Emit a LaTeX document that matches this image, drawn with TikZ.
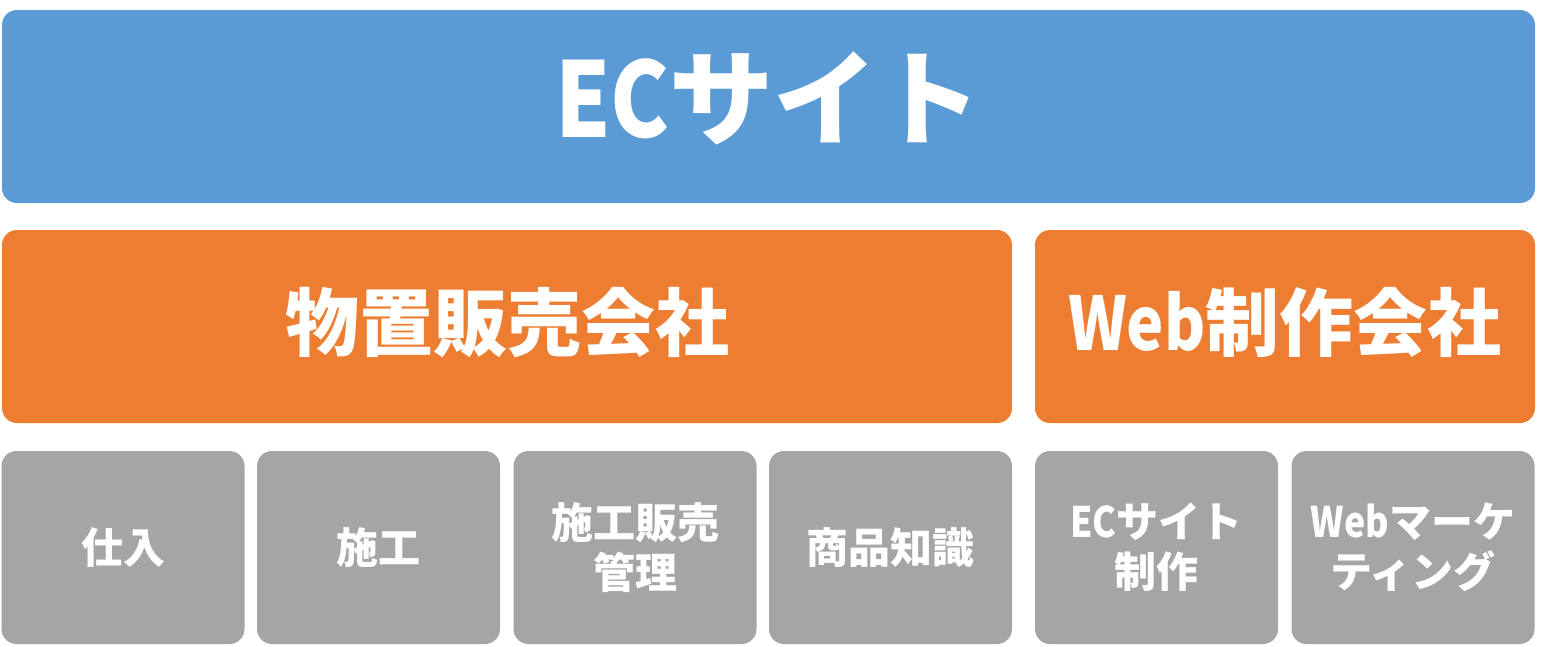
\documentclass[tikz,border=0pt]{standalone}
\usepackage{fontspec}
\setmainfont{Noto Sans CJK JP}
\definecolor{ecblue}{HTML}{5B9BD5}
\definecolor{ecorange}{HTML}{ED7D31}
\definecolor{ecgray}{HTML}{A5A5A5}
\newcommand{\narrowlatin}[1]{\scalebox{0.85}[1]{#1}}
\tikzset{
	tile/.style={rounded corners=15pt,inner sep=0pt,outer sep=0pt,text=white,align=center},
	toptile/.style={tile,fill=ecblue,minimum height=193pt,text height=68pt,text depth=7pt,font=\bfseries\fontsize{104}{108}\selectfont},
	midtile/.style={tile,fill=ecorange,minimum height=193pt,text height=54pt,text depth=7pt,font=\bfseries\fontsize{74}{80}\selectfont},
	subtile/.style={tile,fill=ecgray,minimum width=243pt,minimum height=193pt,font=\bfseries\fontsize{42}{50}\selectfont}
}
\begin{document}
\begin{tikzpicture}[x=1pt,y=-1pt]
		\useasboundingbox (0,0) rectangle (1552,646);
		\node[toptile,minimum width=1533pt] (ec) at (768.5,106.5) {\narrowlatin{EC}サイト};
		\node[midtile,minimum width=1010pt] (shop) at (507,326.5) {物置販売会社};
		\node[midtile,minimum width=500pt] (web) at (1285,326.5) {\narrowlatin{Web}制作会社};
		\node[subtile] (buy) at (123,547.5) {仕入};
		\node[subtile] (work) at (378.5,547.5) {施工};
		\node[subtile] (sales) at (635,547.5) {施工販売\\管理};
		\node[subtile] (know) at (890.5,547.5) {商品知識};
		\node[subtile] (build) at (1156.5,547.5) {\narrowlatin{EC}サイト\\制作};
		\node[subtile] (mkt) at (1413,547.5) {\narrowlatin{Web}マーケ\\ティング};
	\end{tikzpicture}
\end{document}
